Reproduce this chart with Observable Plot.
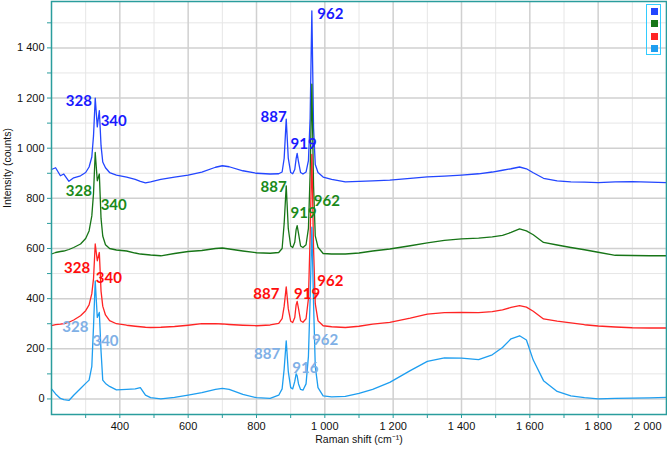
<!DOCTYPE html>
<html>
<head>
<meta charset="utf-8">
<script src="https://cdn.jsdelivr.net/npm/d3@7"></script>
<script src="https://cdn.jsdelivr.net/npm/@observablehq/plot@0.6"></script>
<style>
  html, body { margin: 0; padding: 0; background: #fff; }
  #wrap { position: relative; width: 667px; height: 451px; }
  #legend { position: absolute; left: 646px; top: 4px; width: 15px; height: 51px; border: 1.5px solid #33ccff; box-sizing: border-box; }
  #legend div { position: absolute; left: 3.5px; width: 7px; height: 7px; }
</style>
</head>
<body>
<div id="wrap"><div id="legend"></div></div>
<script>
// Raman shift (cm-1) sample positions shared by all spectra
const shift = [200, 212, 226, 236, 251, 265, 285, 300, 310, 318,
  323, 328, 334, 340, 345, 350, 358, 370, 390, 420,
  445, 460, 475, 490, 520, 560, 600, 640, 680, 700,
  720, 760, 800, 840, 865, 875, 881, 887, 893, 900,
  906, 912, 916, 919, 923, 929, 936, 945, 952, 957,
  962, 967, 972, 980, 995, 1020, 1060, 1100, 1140, 1190,
  1250, 1300, 1350, 1400, 1450, 1490, 1520, 1545, 1570, 1590,
  1610, 1640, 1680, 1720, 1760, 1800, 1850, 1900, 1950, 2000];

const blueSeries = [915, 922, 890, 897, 868, 882, 890, 903, 925, 965,
  1050, 1200, 1085, 1150, 1010, 945, 922, 903, 893, 885,
  876, 868, 862, 866, 876, 885, 893, 905, 924, 930,
  926, 910, 900, 897, 898, 905, 960, 1116, 960, 903,
  898, 915, 958, 979, 945, 903, 897, 905, 950, 1120,
  1548, 1080, 935, 903, 885, 876, 866, 868, 870, 873,
  880, 886, 889, 893, 898, 905, 912, 918, 925, 918,
  902, 880, 870, 866, 865, 863, 866, 867, 865, 863];

const greenSeries = [578, 584, 588, 590, 596, 604, 618, 640, 670, 730,
  820, 983, 870, 897, 720, 650, 615, 600, 594, 590,
  582, 578, 576, 574, 571, 580, 588, 592, 600, 602,
  598, 590, 583, 581, 584, 600, 700, 850, 680, 610,
  604, 625, 675, 691, 660, 610, 604, 615, 680, 900,
  1255, 850, 650, 605, 580, 578, 578, 582, 590, 598,
  611, 622, 632, 638, 641, 646, 652, 664, 678, 670,
  655, 624, 614, 604, 595, 585, 573, 572, 571, 571];

const redSeries = [292, 296, 298, 300, 306, 315, 332, 352, 375, 420,
  480, 618, 551, 584, 430, 370, 335, 312, 300, 294,
  290, 288, 286, 285, 286, 289, 294, 300, 300, 299,
  297, 294, 292, 295, 301, 320, 370, 447, 360, 310,
  305, 325, 375, 389, 360, 312, 306, 320, 400, 650,
  975, 600, 380, 312, 292, 288, 285, 290, 298, 305,
  322, 338, 344, 345, 344, 348, 355, 365, 372, 366,
  350, 319, 310, 303, 296, 291, 287, 284, 283, 283];

const lightSeries = [40, 20, 2, -3, -6, 15, 42, 62, 75, 130,
  290, 471, 325, 345, 190, 75, 62, 50, 36, 38,
  40, 45, 15, 5, 0, 6, 15, 25, 38, 42,
  38, 18, 5, 2, 15, 40, 120, 232, 110, 45,
  40, 70, 100, 92, 60, 38, 35, 60, 170, 400,
  685, 380, 130, 45, 12, 8, 10, 22, 38, 66,
  113, 150, 164, 163, 157, 176, 205, 240, 252, 235,
  155, 73, 30, 12, 5, 0, 2, 3, 4, 6];

// Peak annotations (text, anchor in data units)
const blueNotes  = [["328", 280, 1186], ["340", 382, 1109], ["887", 850, 1122], ["919", 938, 1016], ["962", 1016, 1534]];
const greenNotes = [["328", 280, 827], ["340", 382, 774], ["887", 850, 846], ["919", 938, 740], ["962", 1006, 790]];
const redNotes   = [["328", 275, 522], ["340", 368, 482], ["887", 829, 416], ["919", 948, 416], ["962", 1016, 469]];
const lightNotes = [["328", 270, 285], ["340", 358, 232], ["887", 831, 179], ["916", 943, 124], ["962", 1001, 235]];

// axis ticks
const xMajor = [400, 600, 800, 1000, 1200, 1400, 1600, 1800, 2000];
const xMinor = [300, 500, 700, 900, 1100, 1300, 1500, 1700, 1900];
const yMajor = [0, 200, 400, 600, 800, 1000, 1200, 1400];
const yMinor = [100, 300, 500, 700, 900, 1100, 1300, 1500];

const colors = { blue: "#2346ff", green: "#177517", red: "#ff2424", light: "#1e9ef0" };
const noteColors = { blue: "#1a1aff", green: "#1a8a1a", red: "#ff0d0d", light: "#80b0e6" };
const teal = "#2a9d9d";

const fmt = d3.formatLocale({decimal: ".", thousands: "\u00a0", grouping: [3], currency: ["", ""]}).format(",d");

const series = [
  [blueSeries, colors.blue], [greenSeries, colors.green], [redSeries, colors.red], [lightSeries, colors.light]
];
const notes = [
  [blueNotes, noteColors.blue], [greenNotes, noteColors.green], [redNotes, noteColors.red], [lightNotes, noteColors.light]
];

const chart = Plot.plot({
  width: 667,
  height: 451,
  marginLeft: 51,
  marginRight: 1,
  marginTop: 1,
  marginBottom: 37,
  style: { fontFamily: "'Liberation Sans', Arial, sans-serif", fontSize: "11px", background: "#fff", color: "#111" },
  x: { domain: [200, 2000] },
  y: { domain: [-62, 1585] },
  marks: [
    Plot.ruleX(xMinor, { stroke: "#e6e6e6", strokeWidth: 1 }),
    Plot.ruleY(yMinor, { stroke: "#e6e6e6", strokeWidth: 1 }),
    Plot.ruleX(xMajor, { stroke: "#d0d0d0", strokeWidth: 1.5 }),
    Plot.ruleY(yMajor, { stroke: "#d0d0d0", strokeWidth: 1.5 }),
    ...series.map(([ys, c]) => Plot.lineY(ys, { x: shift, y: d => d, stroke: c, strokeWidth: 1.3 })),
    ...notes.map(([ns, c]) => Plot.text(ns, {
      x: d => d[1], y: d => d[2], text: d => d[0], fill: c,
      fontFamily: "Lato, 'Open Sans', sans-serif", fontWeight: "bold", fontSize: 15
    })),
    Plot.frame({ stroke: teal, strokeWidth: 1.5 }),
    Plot.axisY(yMajor, { tickSize: 4, stroke: teal, tickFormat: fmt, tickPadding: 3, label: null, fill: "#111" }),
    Plot.axisY(yMinor, { tickSize: 4, stroke: teal, tickFormat: () => "", label: null }),
    Plot.axisX(xMajor.filter(v => v < 2000), { tickSize: 4, stroke: teal, tickFormat: fmt, tickPadding: 4, label: null, fill: "#111" }),
    Plot.axisX(xMinor, { tickSize: 4, stroke: teal, tickFormat: () => "", label: null }),
    Plot.axisX([2000], { tickSize: 0, tickFormat: fmt, textAnchor: "end", dx: -5, tickPadding: 8, label: null, fill: "#111" }),
    Plot.text(["Intensity (counts)"], { frameAnchor: "left", rotate: -90, dx: -44, fontSize: 10.5, fill: "#111" }),
    Plot.text(["Raman shift (cm\u207B\u00B9)"], { frameAnchor: "bottom", dy: 28, fontSize: 10.5, fill: "#111" })
  ]
});

document.getElementById("wrap").prepend(chart);
const legend = document.getElementById("legend");
[colors.blue, colors.green, colors.red, colors.light].forEach((c, i) => {
  const s = document.createElement("div");
  s.style.background = c;
  s.style.top = (3 + i * 12.3) + "px";
  legend.appendChild(s);
});
</script>
</body>
</html>
